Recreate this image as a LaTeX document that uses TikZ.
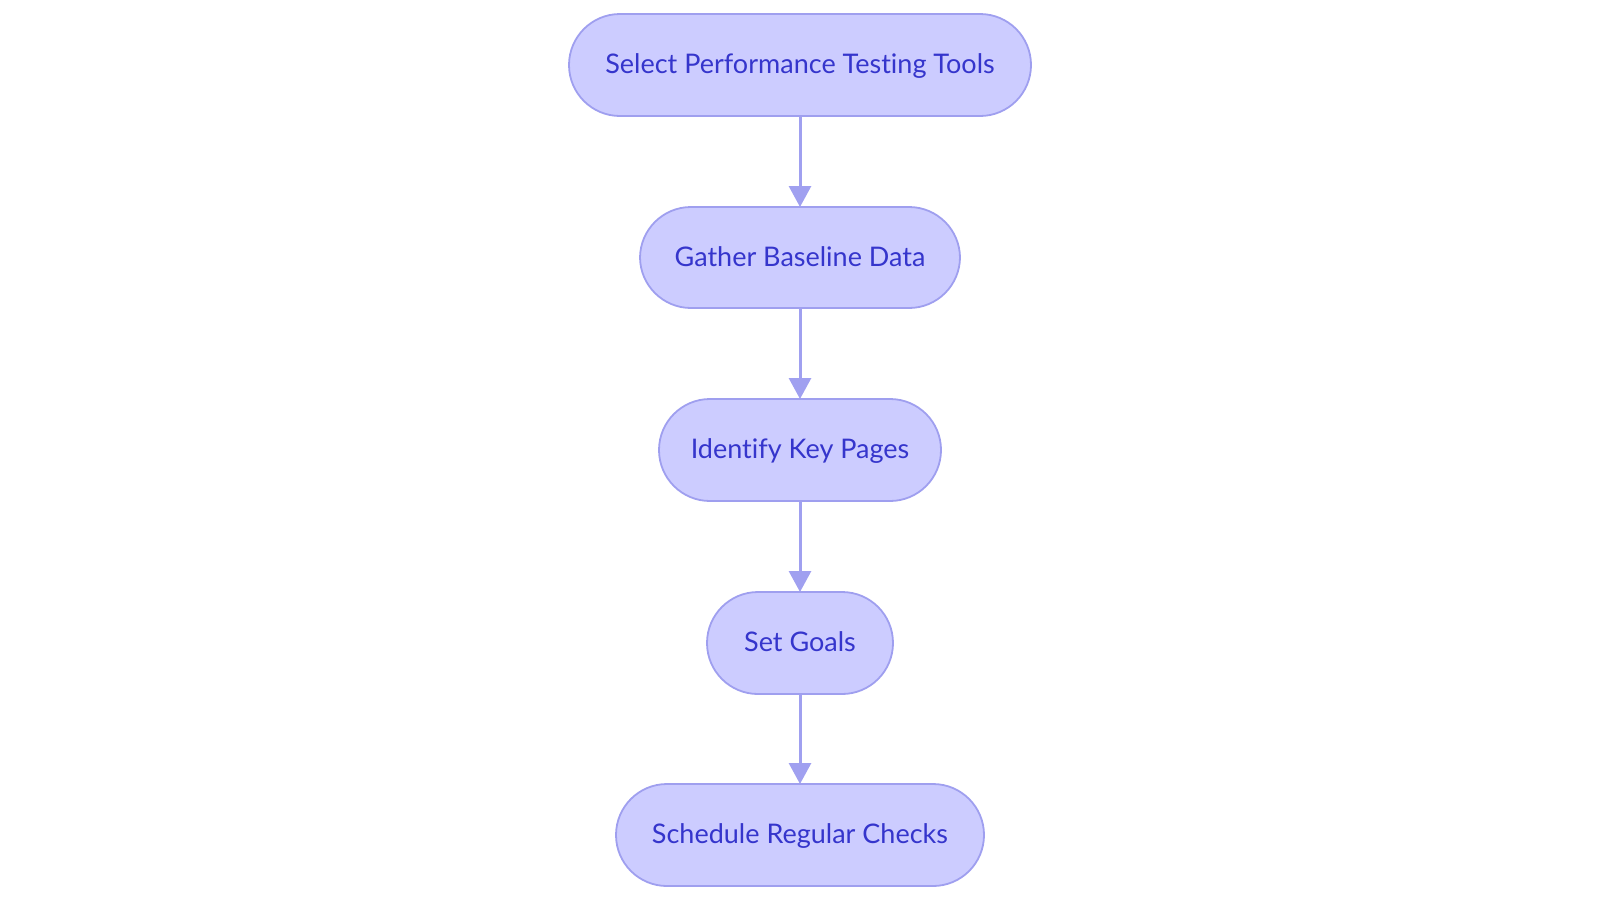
\documentclass[tikz,border=0pt]{standalone}
\usepackage{fontspec}
\setmainfont[Ligatures=CommonOff]{Lato}
\usetikzlibrary{arrows.meta}
\definecolor{nodefill}{HTML}{CCCCFF}
\definecolor{nodeborder}{HTML}{9F9FEF}
\definecolor{nodetext}{HTML}{3535CC}
\definecolor{arrowcol}{HTML}{A0A0F0}
\begin{document}
\begin{tikzpicture}[x=1pt,y=-1pt,
  stadium/.style={draw=nodeborder, line width=1.8pt, fill=nodefill, rounded corners=51pt},
  label/.style={text=nodetext, font=\fontsize{27}{30}\selectfont, inner sep=0pt, anchor=base},
  flow/.style={draw=arrowcol, line width=3pt, -{Triangle[length=21pt,width=22pt]}}]
\useasboundingbox (0,0) rectangle (1600,903);
\newcommand{\stad}[6]{%
  \draw[stadium] (#2,#3) rectangle (#4,#5);
  \node[label] (#1) at ({(#2+#4)/2},{(#3+#5)/2+8.5}) {#6};
  \coordinate (#1t) at ({(#2+#4)/2},#3);
  \coordinate (#1b) at ({(#2+#4)/2},#5);
}
\stad{n1}{569}{14}{1031}{116}{Select Performance Testing Tools}
\stad{n2}{640}{207}{960}{308}{Gather Baseline Data}
\stad{n3}{659}{399}{941}{501}{Identify Key Pages}
\stad{n4}{707}{592}{893}{694}{Set Goals}
\stad{n5}{616}{784}{984}{886}{Schedule Regular Checks}
\draw[flow] (n1b) -- (n2t);
\draw[flow] (n2b) -- (n3t);
\draw[flow] (n3b) -- (n4t);
\draw[flow] (n4b) -- (n5t);
\end{tikzpicture}
\end{document}
